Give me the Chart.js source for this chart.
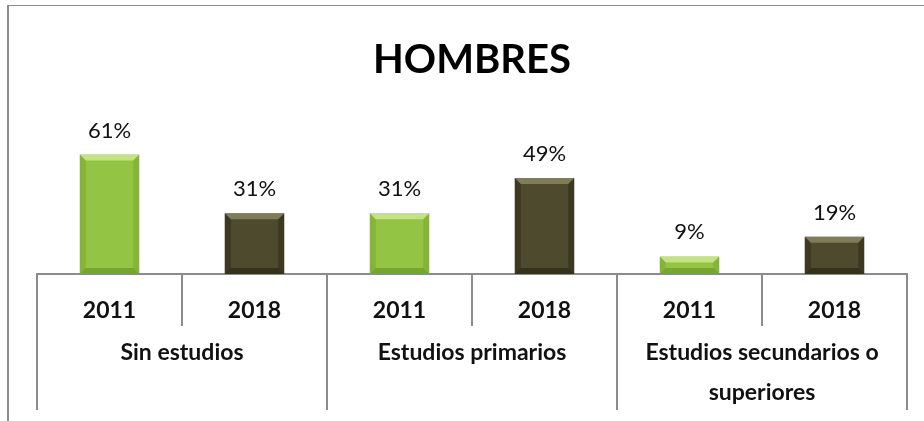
<!DOCTYPE html>
<html>
<head>
<meta charset="utf-8">
<script src="https://cdn.jsdelivr.net/npm/chart.js@4"></script>
<style>
  html, body { margin: 0; padding: 0; background: #fff; }
  #wrap { width: 924px; height: 421px; position: relative; }
</style>
</head>
<body>
<div id="wrap"><canvas id="chart"></canvas></div>
<script>
const groups = ["Sin estudios", "Estudios primarios", "Estudios secundarios o superiores"];
const years = ["2011", "2018"];
const values2011 = [61, 31, 9];
const values2018 = [31, 49, 19];

const FONT = "Lato, 'Noto Sans', sans-serif";
const lineGray = "#8c8c8c";

// one bar per (group, year) pair, 2011 light green, 2018 dark olive
const labels = [];
const values = [];
const yearIdx = [];
groups.forEach((g, i) => {
  labels.push(years[0]); values.push(values2011[i]); yearIdx.push(0);
  labels.push(years[1]); values.push(values2018[i]); yearIdx.push(1);
});

const face = ["#94c443", "#4e4a2e"];
const bevelTop = ["rgba(215,240,160,0.7)", "rgba(150,145,105,0.7)"];
const bevelSide = ["rgba(90,130,20,0.25)", "rgba(20,18,8,0.3)"];
const bevelBottom = ["rgba(70,105,15,0.35)", "rgba(15,14,5,0.4)"];

const bevelPlugin = {
  id: "bevel",
  afterDatasetsDraw(chart) {
    const ctx = chart.ctx;
    const meta = chart.getDatasetMeta(0);
    meta.data.forEach((bar, i) => {
      const { x, y, base, width } = bar.getProps(["x", "y", "base", "width"], true);
      const l = x - width / 2, r = x + width / 2, t = y, b = base;
      const k = Math.min(6, (b - t) / 2);
      const c = yearIdx[i];
      ctx.save();
      // top bevel
      ctx.fillStyle = bevelTop[c];
      ctx.beginPath();
      ctx.moveTo(l, t); ctx.lineTo(r, t); ctx.lineTo(r - k, t + k); ctx.lineTo(l + k, t + k); ctx.closePath();
      ctx.fill();
      // sides
      ctx.fillStyle = bevelSide[c];
      ctx.beginPath();
      ctx.moveTo(l, t); ctx.lineTo(l + k, t + k); ctx.lineTo(l + k, b - k); ctx.lineTo(l, b); ctx.closePath();
      ctx.fill();
      ctx.beginPath();
      ctx.moveTo(r, t); ctx.lineTo(r - k, t + k); ctx.lineTo(r - k, b - k); ctx.lineTo(r, b); ctx.closePath();
      ctx.fill();
      // bottom
      ctx.fillStyle = bevelBottom[c];
      ctx.beginPath();
      ctx.moveTo(l, b); ctx.lineTo(r, b); ctx.lineTo(r - k, b - k); ctx.lineTo(l + k, b - k); ctx.closePath();
      ctx.fill();
      // value label
      ctx.fillStyle = "#111";
      ctx.font = "22px " + FONT;
      ctx.textAlign = "center";
      ctx.textBaseline = "middle";
      ctx.fillText(values[i] + "%", x, t - 24);
      ctx.restore();
    });
  }
};

const tablePlugin = {
  id: "tableAxis",
  beforeDraw(chart) {
    const ctx = chart.ctx;
    ctx.save();
    ctx.strokeStyle = lineGray;
    ctx.lineWidth = 1;
    ctx.beginPath();
    ctx.moveTo(8, 5.5); ctx.lineTo(chart.width, 5.5);
    ctx.stroke();
    ctx.lineWidth = 2;
    ctx.beginPath();
    ctx.moveTo(8, 5); ctx.lineTo(8, chart.height);
    ctx.stroke();
    ctx.restore();
  },
  afterDraw(chart) {
    const ctx = chart.ctx;
    const xs = chart.scales.x;
    const bottom = chart.chartArea.bottom;
    ctx.save();
    ctx.strokeStyle = lineGray;
    ctx.lineWidth = 2;
    for (let i = 0; i <= labels.length; i++) {
      const px = Math.round(xs.getPixelForValue(i - 0.5));
      const len = i % 2 === 0 ? 136 : 52;
      ctx.beginPath();
      ctx.moveTo(px, bottom);
      ctx.lineTo(px, bottom + len);
      ctx.stroke();
    }
    ctx.fillStyle = "#111";
    ctx.font = "bold 23px " + FONT;
    ctx.textAlign = "center";
    ctx.textBaseline = "middle";
    groups.forEach((g, gi) => {
      const l = xs.getPixelForValue(gi * 2 - 0.5);
      const r = xs.getPixelForValue(gi * 2 + 1.5);
      const maxW = r - l - 14;
      // wrap words into lines
      const words = g.split(" ");
      const lines = [];
      let cur = "";
      words.forEach(w => {
        const test = cur ? cur + " " + w : w;
        if (ctx.measureText(test).width > maxW && cur) { lines.push(cur); cur = w; }
        else cur = test;
      });
      lines.push(cur);
      lines.forEach((ln, li) => ctx.fillText(ln, (l + r) / 2, bottom + 79 + li * 40));
    });
    ctx.restore();
  }
};

new Chart(document.getElementById("chart"), {
  type: "bar",
  data: {
    labels,
    datasets: [{
      data: values,
      backgroundColor: yearIdx.map(c => face[c]),
      borderWidth: 0,
      barPercentage: 0.41,
      categoryPercentage: 1
    }]
  },
  options: {
    responsive: true,
    maintainAspectRatio: false,
    animation: false,
    layout: { padding: { left: 37, right: 17, top: 6, bottom: 0 } },
    plugins: {
      legend: { display: false },
      tooltip: { enabled: false },
      title: {
        display: true,
        text: "HOMBRES",
        color: "#000",
        font: { family: FONT, size: 40, weight: "bold" },
        padding: { top: 30, bottom: 53 }
      }
    },
    scales: {
      y: { display: false, min: 0, max: 70 },
      x: {
        grid: { display: false },
        border: { display: true, color: lineGray, width: 2 },
        ticks: { color: "#111", font: { family: FONT, size: 23, weight: "bold" }, padding: 15 },
        afterFit(scale) { scale.height = 147; }
      }
    }
  },
  plugins: [tablePlugin, bevelPlugin]
});
</script>
</body>
</html>
